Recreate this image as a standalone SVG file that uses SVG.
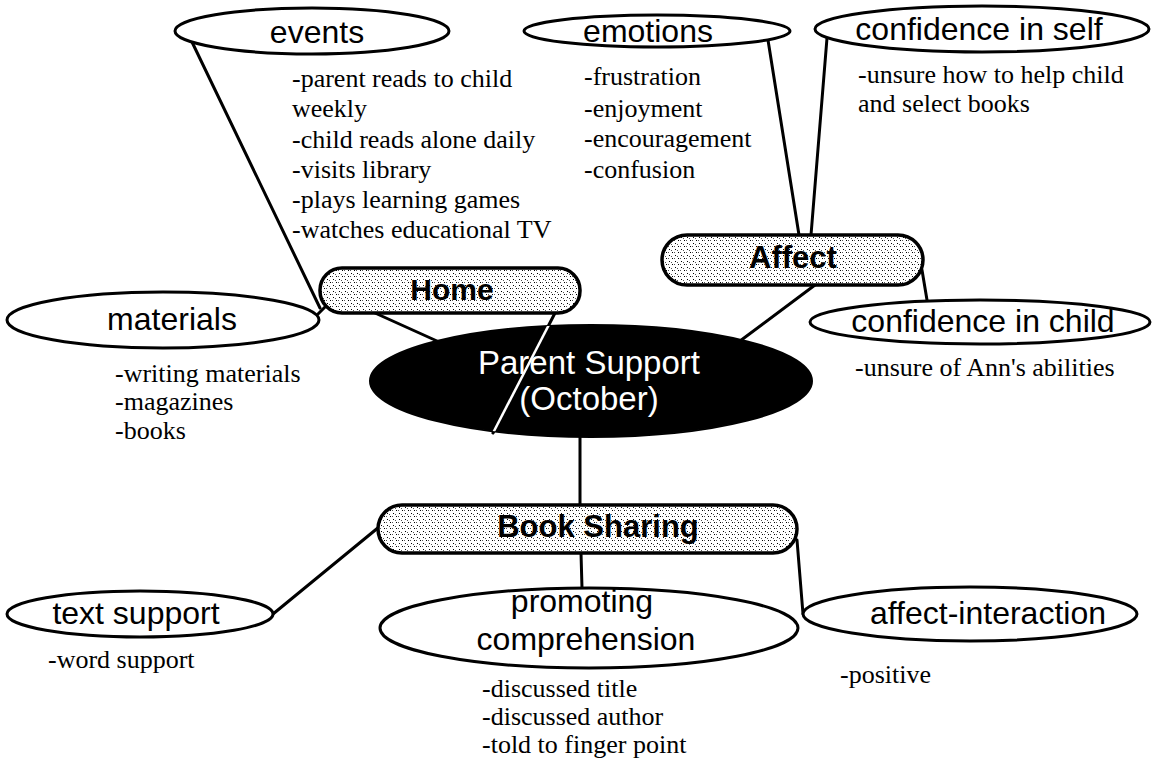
<svg xmlns="http://www.w3.org/2000/svg" width="1158" height="765" viewBox="0 0 1158 765">
  <defs>
    <pattern id="stipple" width="6" height="6" patternUnits="userSpaceOnUse">
      <rect width="6" height="6" fill="#ffffff"/>
      <rect x="0" y="0" width="1" height="1" fill="#000"/>
      <rect x="3" y="3" width="1" height="1" fill="#000"/>
      <rect x="2" y="0" width="1" height="1" fill="#555"/>
      <rect x="5" y="4" width="1" height="1" fill="#555"/>
    </pattern>
    <clipPath id="hubClip">
      <ellipse cx="591" cy="381" rx="221" ry="56"/>
    </clipPath>
    <style>
      .oval { fill: #ffffff; stroke: #000; stroke-width: 3; }
      .pill { fill: url(#stipple); stroke: #000; stroke-width: 3.5; }
      .hub { fill: #000; stroke: #000; stroke-width: 2; }
      .lbl { font-family: "Liberation Sans", Arial, sans-serif; font-size: 32px; fill: #000; text-anchor: middle; }
      .hubtxt { font-family: "Liberation Sans", Arial, sans-serif; font-size: 33px; fill: #fff; text-anchor: middle; }
      .head { font-family: "Liberation Sans", Arial, sans-serif; font-size: 30px; font-weight: bold; fill: #000; text-anchor: middle; }
      .note { font-family: "Liberation Serif", "Times New Roman", serif; font-size: 26px; fill: #000; }
      .wire { stroke: #000; stroke-width: 3; fill: none; stroke-linecap: round; }
      .wire-light { stroke: #fff; stroke-width: 2.5; fill: none; }
    </style>
  </defs>

  <rect width="1158" height="765" fill="#ffffff"/>

  <!-- connectors -->
  <g id="connectors">
    <line class="wire" x1="192" y1="42" x2="320" y2="308"/>
    <line class="wire" x1="318" y1="314" x2="328" y2="304"/>
    <line class="wire" x1="375" y1="313" x2="437" y2="341"/>
    <line class="wire" x1="555" y1="313" x2="493" y2="433"/>
    <line class="wire" x1="768" y1="40" x2="799" y2="235"/>
    <line class="wire" x1="827" y1="38" x2="811" y2="235"/>
    <line class="wire" x1="922" y1="270" x2="927" y2="300"/>
    <line class="wire" x1="815" y1="285" x2="740" y2="341"/>
    <line class="wire" x1="580" y1="437" x2="580" y2="505"/>
    <line class="wire" x1="581" y1="553" x2="582" y2="588"/>
    <line class="wire" x1="379" y1="527" x2="273" y2="614"/>
    <line class="wire" x1="797" y1="540" x2="803" y2="614"/>
  </g>

  <!-- central hub -->
  <g id="parent-support">
    <ellipse class="hub" cx="591" cy="381" rx="221" ry="56"/>
    <line class="wire-light" x1="555" y1="313" x2="493" y2="433" clip-path="url(#hubClip)"/>
    <text class="hubtxt" x="589" y="374">Parent Support</text>
    <text class="hubtxt" x="589" y="410">(October)</text>
  </g>

  <!-- category pills -->
  <g id="home">
    <rect class="pill" x="320" y="268" width="260" height="45" rx="22"/>
    <text class="head" x="452" y="300">Home</text>
  </g>
  <g id="affect">
    <rect class="pill" x="662" y="235" width="261" height="50" rx="25"/>
    <text class="head" x="793" y="268" style="font-size:31px">Affect</text>
  </g>
  <g id="book-sharing">
    <rect class="pill" x="378" y="505" width="419" height="48" rx="24"/>
    <text class="head" x="598" y="537" style="font-size:31px">Book Sharing</text>
  </g>

  <!-- Home branch -->
  <g id="events">
    <ellipse class="oval" cx="312" cy="31" rx="137" ry="23"/>
    <text class="lbl" x="317" y="43">events</text>
    <text class="note" x="292" y="87">-parent reads to child</text>
    <text class="note" x="292" y="117">weekly</text>
    <text class="note" x="292" y="148">-child reads alone daily</text>
    <text class="note" x="292" y="178">-visits library</text>
    <text class="note" x="292" y="208">-plays learning games</text>
    <text class="note" x="292" y="238">-watches educational TV</text>
  </g>
  <g id="materials">
    <ellipse class="oval" cx="163" cy="320" rx="156" ry="28"/>
    <text class="lbl" x="172" y="330">materials</text>
    <text class="note" x="115" y="382">-writing materials</text>
    <text class="note" x="115" y="410">-magazines</text>
    <text class="note" x="115" y="439">-books</text>
  </g>

  <!-- Affect branch -->
  <g id="emotions">
    <ellipse class="oval" cx="657" cy="31" rx="133" ry="16"/>
    <text class="lbl" x="648" y="42">emotions</text>
    <text class="note" x="584" y="85">-frustration</text>
    <text class="note" x="584" y="117">-enjoyment</text>
    <text class="note" x="584" y="147">-encouragement</text>
    <text class="note" x="584" y="178">-confusion</text>
  </g>
  <g id="confidence-self">
    <ellipse class="oval" cx="982" cy="29" rx="167" ry="23"/>
    <text class="lbl" x="979" y="40">confidence in self</text>
    <text class="note" x="858" y="83">-unsure how to help child</text>
    <text class="note" x="858" y="112">and select books</text>
  </g>
  <g id="confidence-child">
    <ellipse class="oval" cx="980" cy="322" rx="170" ry="22"/>
    <text class="lbl" x="983" y="332">confidence in child</text>
    <text class="note" x="855" y="376">-unsure of Ann's abilities</text>
  </g>

  <!-- Book Sharing branch -->
  <g id="text-support">
    <ellipse class="oval" cx="140" cy="614" rx="133" ry="23"/>
    <text class="lbl" x="136" y="624">text support</text>
    <text class="note" x="48" y="668">-word support</text>
  </g>
  <g id="promoting-comprehension">
    <ellipse class="oval" cx="589" cy="628" rx="209" ry="40"/>
    <text class="lbl" x="582" y="612">promoting</text>
    <text class="lbl" x="586" y="650">comprehension</text>
    <text class="note" x="482" y="697">-discussed title</text>
    <text class="note" x="482" y="725">-discussed author</text>
    <text class="note" x="482" y="753">-told to finger point</text>
  </g>
  <g id="affect-interaction">
    <ellipse class="oval" cx="970" cy="614" rx="167" ry="27"/>
    <text class="lbl" x="988" y="624">affect-interaction</text>
    <text class="note" x="840" y="683">-positive</text>
  </g>
</svg>
